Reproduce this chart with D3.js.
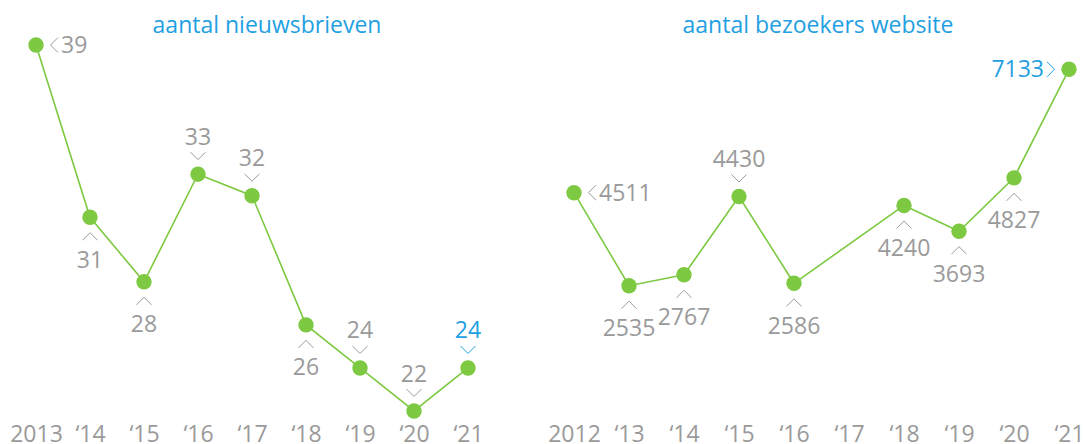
<!DOCTYPE html>
<html>
<head>
<meta charset="utf-8">
<script src="https://cdn.jsdelivr.net/npm/d3@7"></script>
<style>
  body { margin: 0; background: #fff; }
  text { font-family: "Open Sans", sans-serif; }
</style>
</head>
<body>
<div id="container"></div>
<script>
// left chart: aantal nieuwsbrieven
let newsYears = [2013, 2014, 2015, 2016, 2017, 2018, 2019, 2020, 2021];
let newsTicks = ["2013", "\u201814", "\u201815", "\u201816", "\u201817", "\u201818", "\u201819", "\u201820", "\u201821"];
let newsValues = [39, 31, 28, 33, 32, 26, 24, 22, 24];
let newsLabelPos = ["right", "below", "below", "above", "above", "below", "above", "above", "above"];

// right chart: aantal bezoekers website (2017 has no value)
let webYears = [2012, 2013, 2014, 2015, 2016, 2017, 2018, 2019, 2020, 2021];
let webTicks = ["2012", "\u201813", "\u201814", "\u201815", "\u201816", "\u201817", "\u201818", "\u201819", "\u201820", "\u201821"];
let webValues = [4511, 2535, 2767, 4430, 2586, null, 4240, 3693, 4827, 7133];
let webLabelPos = ["right", "below", "below", "above", "below", null, "below", "below", "below", "left"];

let w = 1085;
let h = 444;
let green = "#7dc942";
let gray = "#9a9a9a";
let blue = "#1fa0e2";

let viz = d3.select("#container")
  .append("svg")
  .attr("width", w)
  .attr("height", h)
  .style("background-color", "#fff");

function drawChart(title, titleX, years, ticks, values, labelPos, xRange, yRange) {
    let data = years.map((y, i) => ({year: y, tick: ticks[i], value: values[i], pos: labelPos[i], last: i == years.length - 1}));
    let points = data.filter(d => d.value != null);

    let xScale = d3.scaleLinear()
        .domain(d3.extent(years))
        .range(xRange);
    let yScale = d3.scaleLinear()
        .domain(d3.extent(points, d => d.value))
        .range(yRange);

    let g = viz.append("g");

    g.append("text")
        .attr("x", titleX)
        .attr("y", 33)
        .attr("text-anchor", "middle")
        .attr("fill", blue)
        .style("font-size", "23px")
        .text(title);

    // year labels
    let xAxis = d3.axisBottom(xScale)
        .tickValues(years)
        .tickFormat((d, i) => ticks[i])
        .tickSize(0)
        .tickPadding(0);
    let ax = g.append("g")
        .attr("transform", "translate(0, 442)")
        .call(xAxis);
    ax.select(".domain").remove();
    ax.selectAll("text")
        .attr("fill", gray)
        .attr("dy", "0")
        .style("font-family", "'Open Sans', sans-serif")
        .style("font-size", "23px");

    let lineMaker = d3.line()
        .x(d => xScale(d.year))
        .y(d => yScale(d.value));

    g.append("path")
        .datum(points)
        .attr("fill", "none")
        .attr("stroke", green)
        .attr("stroke-width", 1.6)
        .attr("d", lineMaker);

    g.selectAll(".dot")
        .data(points)
        .enter()
        .append("circle")
        .attr("cx", d => xScale(d.year))
        .attr("cy", d => yScale(d.value))
        .attr("r", 7.7)
        .attr("fill", green);

    // value labels with chevrons
    let labels = g.selectAll(".lab")
        .data(points)
        .enter()
        .append("g")
        .attr("transform", d => `translate(${xScale(d.year)}, ${yScale(d.value)})`);

    labels.append("path")
        .attr("fill", "none")
        .attr("stroke", d => d.last ? blue : gray)
        .attr("stroke-width", 1)
        .attr("d", d => {
            if (d.pos == "above") return "M-7.5,-22 L0,-14.5 L7.5,-22";
            if (d.pos == "below") return "M-7.5,23 L0,15.5 L7.5,23";
            if (d.pos == "right") return "M22,-7.5 L14.5,0 L22,7.5";
            return "M-22,-7.5 L-14.5,0 L-22,7.5";
        });

    labels.append("text")
        .attr("fill", d => d.last ? blue : gray)
        .style("font-size", "23px")
        .attr("text-anchor", d => d.pos == "right" ? "start" : d.pos == "left" ? "end" : "middle")
        .attr("x", d => d.pos == "right" ? 25 : d.pos == "left" ? -25 : 0)
        .attr("y", d => d.pos == "above" ? -29.5 : d.pos == "below" ? 50.5 : 8)
        .text(d => d.value);
}

drawChart("aantal nieuwsbrieven", 267, newsYears, newsTicks, newsValues, newsLabelPos, [36, 468], [411, 45]);
drawChart("aantal bezoekers website", 818, webYears, webTicks, webValues, webLabelPos, [574, 1069], [285.7, 69.3]);
</script>
</body>
</html>
